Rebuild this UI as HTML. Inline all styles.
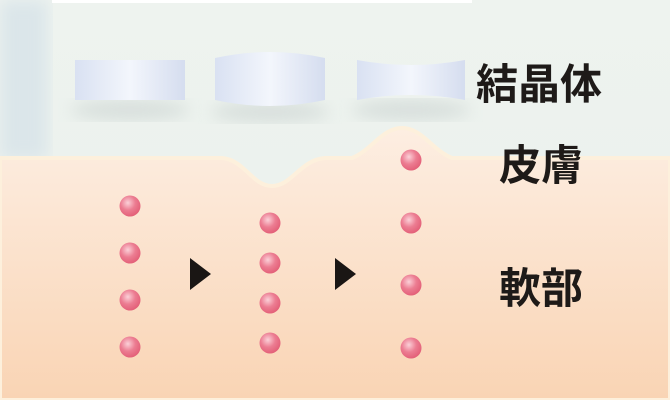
<!DOCTYPE html>
<html><head><meta charset="utf-8"><style>
html,body{margin:0;padding:0;width:670px;height:400px;overflow:hidden}
</style></head><body>
<svg width="670" height="400" viewBox="0 0 670 400" xmlns="http://www.w3.org/2000/svg">
<defs>
<linearGradient id="skin" x1="0" y1="0" x2="0" y2="1">
<stop offset="0" stop-color="#fdeee2"/><stop offset="1" stop-color="#f9d4b4"/>
</linearGradient>
<linearGradient id="top" x1="0" y1="0" x2="0" y2="1">
<stop offset="0" stop-color="#eef3ef"/><stop offset="1" stop-color="#eaf1ec"/>
</linearGradient>
<linearGradient id="lens" x1="0" y1="0" x2="1" y2="0">
<stop offset="0" stop-color="#d9e1f2"/><stop offset="0.5" stop-color="#f3f6fc"/><stop offset="1" stop-color="#d5ddef"/>
</linearGradient>
<radialGradient id="dot" cx="0.4" cy="0.35" r="0.7">
<stop offset="0" stop-color="#fbd0d8"/><stop offset="0.5" stop-color="#ec7d92"/><stop offset="1" stop-color="#e25c75"/>
</radialGradient>
<filter id="blur"><feGaussianBlur stdDeviation="8"/></filter>
</defs>
<rect width="670" height="400" fill="url(#top)"/>
<rect x="0" y="0" width="48" height="160" fill="#dbe6ea" filter="url(#blur)"/>
<rect x="52" y="0" width="420" height="3" fill="#fff"/>
<ellipse cx="130" cy="110" rx="60" ry="10" fill="#c8d0cf" opacity="0.6" filter="url(#blur)"/>
<ellipse cx="270" cy="112" rx="60" ry="10" fill="#c8d0cf" opacity="0.6" filter="url(#blur)"/>
<ellipse cx="411" cy="110" rx="60" ry="10" fill="#c8d0cf" opacity="0.6" filter="url(#blur)"/>
<path d="M0 158 L222 158 C245 160 252 186 272 186 C292 186 300 160 325 158 L352 158 C372 150 382 128 402 128 C422 128 432 150 452 158 L670 158 L670 400 L0 400 Z" fill="url(#skin)" stroke="#fdf0dc" stroke-width="4"/>
<rect x="75" y="60" width="110" height="40" fill="url(#lens)"/>
<path d="M215 58 Q270 46 325 58 L325 100 Q270 112 215 100 Z" fill="url(#lens)"/>
<path d="M357 60 Q411 70 465 60 L465 100 Q411 90 357 100 Z" fill="url(#lens)"/>
<g fill="url(#dot)">
<circle cx="130" cy="206" r="10.5"/><circle cx="130" cy="253" r="10.5"/><circle cx="130" cy="300" r="10.5"/><circle cx="130" cy="347" r="10.5"/>
<circle cx="270" cy="223" r="10.5"/><circle cx="270" cy="263" r="10.5"/><circle cx="270" cy="303" r="10.5"/><circle cx="270" cy="343" r="10.5"/>
<circle cx="411" cy="160" r="10.5"/><circle cx="411" cy="223" r="10.5"/><circle cx="411" cy="285" r="10.5"/><circle cx="411" cy="348" r="10.5"/>
</g>
<polygon points="190,258 211,274 190,290" fill="#1a1614"/>
<polygon points="335,258 356,274 335,290" fill="#1a1614"/>
<g font-family="'Noto Sans CJK JP','Liberation Sans',sans-serif" font-size="42" font-weight="bold" fill="#1e1a18">
<text x="476" y="99">結晶体</text>
<text x="499" y="180">皮膚</text>
<text x="499" y="303">軟部</text>
</g>
</svg>
</body></html>
